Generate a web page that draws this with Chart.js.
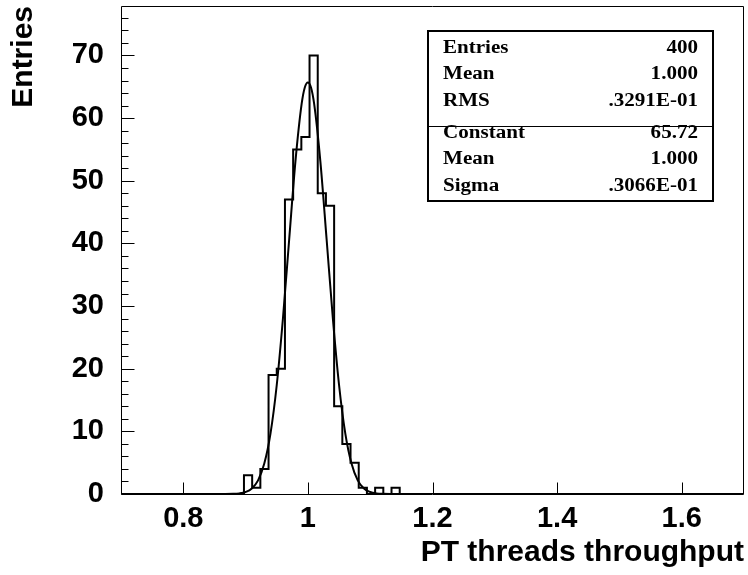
<!DOCTYPE html>
<html>
<head>
<meta charset="utf-8">
<script src="https://cdn.jsdelivr.net/npm/chart.js@4"></script>
<style>
  html, body { margin: 0; padding: 0; background: #fff; }
  #wrap { width: 748px; height: 575px; }
</style>
</head>
<body>
<div id="wrap"><canvas id="myChart" width="748" height="575"></canvas></div>
<script>
// histogram: 76 bins from 0.7 to 1.7
const binLow = 0.7;
const binHigh = 1.7;
const counts = [
    0, 0, 0, 0, 0, 0, 0, 0, 0, 0,
    0, 0, 0, 0, 0, 3, 1, 4, 19, 20,
    47, 55, 57, 70, 48, 46, 14, 8, 5, 1,
    0, 1, 0, 1, 0, 0, 0, 0, 0, 0,
    0, 0, 0, 0, 0, 0, 0, 0, 0, 0,
    0, 0, 0, 0, 0, 0, 0, 0, 0, 0,
    0, 0, 0, 0, 0, 0, 0, 0, 0, 0,
    0, 0, 0, 0, 0, 0
];

// gaussian fit curve
const fitX = [0.70, 0.85, 0.88, 0.89, 0.90, 0.91, 0.92, 0.93, 0.94, 0.95, 0.96, 0.97, 0.98, 0.99, 0.995,
    1.00, 1.005, 1.01, 1.02, 1.03, 1.04, 1.05, 1.06, 1.07, 1.08, 1.09, 1.10, 1.11, 1.12, 1.15, 1.70];
const fitY = [0, 0, 0.03, 0.10, 0.32, 0.88, 2.18, 4.85, 9.68, 17.4, 28.1, 40.7, 53.1, 62.3, 64.9,
    65.7, 64.9, 62.3, 53.1, 40.7, 28.1, 17.4, 9.68, 4.85, 2.18, 0.88, 0.32, 0.10, 0.03, 0, 0];

const xTicks = [0.8, 1.0, 1.2, 1.4, 1.6];
const yTicks = [0, 10, 20, 30, 40, 50, 60, 70];
const yMax = 77.9;
const yMinorStep = 2;

const statNames = ['Entries', 'Mean', 'RMS', 'Constant', 'Mean', 'Sigma'];
const statValues = ['400', '1.000', '.3291E-01', '65.72', '1.000', '.3066E-01'];

const sansBold = { family: '"Liberation Sans", Arial, Helvetica, sans-serif', weight: 'bold', size: 29 };
const titleFont = { family: '"Liberation Sans", Arial, Helvetica, sans-serif', weight: 'bold', size: 30 };

const binWidth = (binHigh - binLow) / counts.length;
const histPoints = counts.map((c, i) => ({ x: binLow + i * binWidth, y: c }));
histPoints.push({ x: binHigh, y: 0 });
const fitPoints = fitX.map((x, i) => ({ x: x, y: fitY[i] }));

// ROOT style frame, inward ticks and the stats box
const rootFrame = {
    id: 'rootFrame',
    afterDatasetsDraw(chart) {
        const ctx = chart.ctx;
        const a = chart.chartArea;
        const xs = chart.scales.x, ys = chart.scales.y;
        const L = Math.round(a.left) + 0.5, R = Math.round(a.right) - 0.5;
        const T = Math.round(a.top) + 0.5, B = Math.round(a.bottom) + 0.5;
        ctx.save();
        ctx.strokeStyle = '#000';
        ctx.lineWidth = 1;
        ctx.beginPath();
        ctx.moveTo(L, T); ctx.lineTo(R, T); ctx.lineTo(R, B); ctx.lineTo(L, B); ctx.closePath();
        ctx.stroke();

        ctx.beginPath();
        for (let v = 0; v <= yMax; v += yMinorStep) {
            const py = Math.round(ys.getPixelForValue(v)) + 0.5;
            const len = yTicks.includes(v) ? 13 : 7;
            ctx.moveTo(L, py); ctx.lineTo(L + len, py);
        }
        xTicks.forEach(v => {
            const px = Math.round(xs.getPixelForValue(v)) + 0.5;
            ctx.moveTo(px, B); ctx.lineTo(px, B - 12);
        });
        ctx.stroke();

        // stats box
        ctx.fillStyle = '#fff';
        ctx.fillRect(428, 31, 285, 170);
        ctx.lineWidth = 2;
        ctx.strokeRect(428, 31, 285, 170);
        ctx.lineWidth = 1;
        ctx.beginPath();
        ctx.moveTo(428, 126.5); ctx.lineTo(713, 126.5);
        ctx.stroke();

        ctx.fillStyle = '#000';
        ctx.font = 'bold 18px "Liberation Serif", "Times New Roman", serif';
        ctx.textBaseline = 'alphabetic';
        const baselines = [52.5, 79, 105.5, 137.5, 164, 190.5];
        statNames.forEach((name, i) => {
            ctx.save();
            ctx.translate(443, baselines[i]);
            ctx.scale(1.17, 1);
            ctx.textAlign = 'left';
            ctx.fillText(name, 0, 0);
            ctx.restore();
            ctx.save();
            ctx.translate(698, baselines[i]);
            ctx.scale(1.17, 1);
            ctx.textAlign = 'right';
            ctx.fillText(statValues[i], 0, 0);
            ctx.restore();
        });
        ctx.restore();
    }
};

const canvas = document.getElementById('myChart').getContext('2d');

const config = {
    type: 'line',
    data: {
        datasets: [
            {
                label: 'fit',
                data: fitPoints,
                borderColor: '#000',
                borderWidth: 2,
                pointRadius: 0,
                fill: false,
                cubicInterpolationMode: 'monotone'
            },
            {
                label: 'histogram',
                data: histPoints,
                borderColor: '#000',
                borderWidth: 2,
                pointRadius: 0,
                fill: false,
                stepped: true
            }
        ]
    },
    options: {
        responsive: false,
        animation: false,
        events: [],
        layout: { padding: { top: 6, right: 4, left: 0, bottom: 0 } },
        plugins: {
            legend: { display: false },
            tooltip: { enabled: false }
        },
        scales: {
            x: {
                type: 'linear',
                min: binLow,
                max: binHigh,
                afterBuildTicks: s => { s.ticks = xTicks.map(v => ({ value: v })); },
                afterFit: s => { s.height = 81; s.paddingLeft = 0; s.paddingRight = 0; },
                grid: { display: false, drawTicks: false },
                border: { display: false },
                ticks: {
                    color: '#000',
                    font: sansBold,
                    padding: 8,
                    maxRotation: 0,
                    autoSkip: false,
                    callback: v => String(v)
                },
                title: {
                    display: true,
                    text: 'PT threads throughput',
                    align: 'end',
                    color: '#000',
                    font: titleFont,
                    padding: { top: 0, bottom: 4 }
                }
            },
            y: {
                type: 'linear',
                min: 0,
                max: yMax,
                afterBuildTicks: s => { s.ticks = yTicks.map(v => ({ value: v })); },
                afterFit: s => { s.width = 121; s.paddingTop = 0; s.paddingBottom = 0; },
                grid: { display: false, drawTicks: false },
                border: { display: false },
                ticks: {
                    color: '#000',
                    font: sansBold,
                    padding: 17,
                    autoSkip: false
                },
                title: {
                    display: true,
                    text: 'Entries',
                    align: 'end',
                    color: '#000',
                    font: titleFont,
                    padding: { top: 6, bottom: 0 }
                }
            }
        }
    },
    plugins: [rootFrame]
};

new Chart(canvas, config);
</script>
</body>
</html>
